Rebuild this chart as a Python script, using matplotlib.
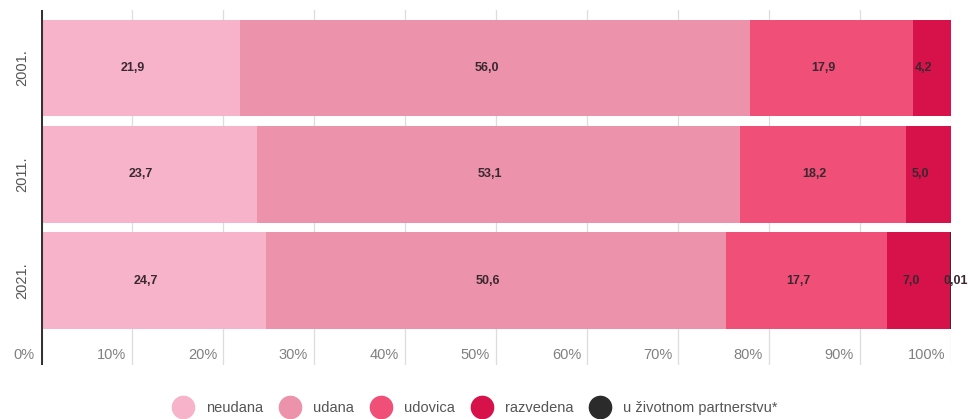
import matplotlib
matplotlib.use("Agg")
import matplotlib.pyplot as plt
import matplotlib.transforms as mtransforms
from matplotlib.lines import Line2D
import numpy as np

plt.rcParams['font.family'] = ['Liberation Sans', 'DejaVu Sans']

years = ["2001.", "2011.", "2021."]
categories = ["neudana", "udana", "udovica", "razvedena", "u životnom partnerstvu*"]
neudana = [21.9, 23.7, 24.7]
udana = [56.0, 53.1, 50.6]
udovica = [17.9, 18.2, 17.7]
razvedena = [4.2, 5.0, 7.0]
partnerstvo = [0.0, 0.0, 0.01]
labels_neudana = ["21,9", "23,7", "24,7"]
labels_udana = ["56,0", "53,1", "50,6"]
labels_udovica = ["17,9", "18,2", "17,7"]
labels_razvedena = ["4,2", "5,0", "7,0"]
labels_partnerstvo = ["", "", "0,01"]
xticks = [0, 10, 20, 30, 40, 50, 60, 70, 80, 90, 100]
xtick_labels = ["0%", "10%", "20%", "30%", "40%", "50%", "60%", "70%", "80%", "90%", "100%"]

colors = ["#f7b3ca", "#ec93ab", "#f05077", "#d7124a", "#2b2b2b"]

fig = plt.figure(figsize=(9.68, 4.19), dpi=100)
W, H = 968, 419
ax = fig.add_axes([41 / W, 1 - 365 / H, (951 - 41) / W, (365 - 10) / H])

series = [neudana, udana, udovica, razvedena, partnerstvo]
labels = [labels_neudana, labels_udana, labels_udovica, labels_razvedena, labels_partnerstvo]
y = np.arange(len(years))
left = np.zeros(len(years))
label_off = mtransforms.offset_copy(ax.transData, fig=fig, x=-8, y=0, units='dots')
small_off = mtransforms.offset_copy(ax.transData, fig=fig, x=5, y=0, units='dots')
for k, (vals, labs, col) in enumerate(zip(series, labels, colors)):
    vals = np.array(vals)
    if k == len(series) - 1:
        lws = [1.2 if v > 0 else 0 for v in vals]
    else:
        lws = [0] * len(vals)
    ax.barh(y, vals, left=left, height=0.91, color=col, edgecolor=col, zorder=2, linewidth=lws)
    for i in range(len(years)):
        if labs[i]:
            cx = left[i] + vals[i] / 2
            tr = label_off if vals[i] > 0.5 else small_off
            ax.text(cx, y[i], labs[i], ha='center', va='center', fontsize=9,
                    fontweight='bold', color='#3a2830', transform=tr, zorder=4, clip_on=False)
    left = left + vals

ax.set_xlim(0, 100)
ax.set_ylim(2.79, -0.545)
for t in xticks[1:]:
    ax.axvline(t, color='#dddddd', linewidth=0.9, zorder=1)
ax.axvline(0, color='#333333', linewidth=2.2, zorder=5)

for s in ax.spines.values():
    s.set_visible(False)
ax.set_xticks([])
ax.set_yticks([])

tick_tr = mtransforms.offset_copy(ax.transData, fig=fig, x=-6, y=0, units='dots')
for t, lab in zip(xticks, xtick_labels):
    ax.text(t, 2.695, lab, ha='right', va='center', fontsize=10.5, color='#808080',
            transform=tick_tr, clip_on=False)

for yi, lab in zip(y, years):
    fig.text(22 / W, 1 - (68 + yi * 106.5) / H, lab, rotation=90, ha='center', va='center',
             fontsize=10.5, color='#555555')

handles = [Line2D([0], [0], marker='o', linestyle='', markersize=16, markerfacecolor=c,
                  markeredgecolor=c) for c in colors]
fig.legend(handles, categories, loc='center', bbox_to_anchor=(475 / W, 1 - 408 / H),
           ncol=5, frameon=False, fontsize=10.5, handletextpad=0.85, columnspacing=1.07,
           labelcolor='#555555', handlelength=1.5)

fig.savefig("out.png", dpi=100)
